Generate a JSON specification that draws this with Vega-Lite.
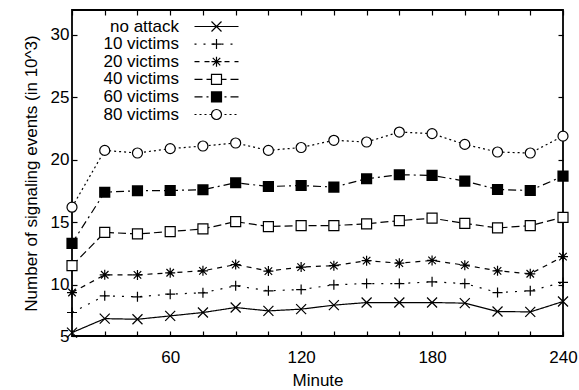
{
  "$schema": "https://vega.github.io/schema/vega-lite/v6.json",
  "width": 491,
  "height": 326,
  "autosize": {"type": "none"},
  "padding": {"left": 72, "top": 10, "right": 16, "bottom": 54},
  "background": "white",
  "config": {
    "font": "Liberation Sans",
    "view": {"stroke": "black", "strokeWidth": 1.8},
    "axis": {
      "grid": false, "domain": false, "tickColor": "black", "tickSize": -5, "tickWidth": 1.2,
      "labelFont": "Liberation Sans", "labelFontSize": 17, "labelColor": "black",
      "titleFont": "Liberation Sans", "titleFontSize": 17, "titleFontWeight": "normal", "titleColor": "black",
      "labelOverlap": false, "labelFlush": false
    },
    "legend": {
      "orient": "none", "legendX": 0, "legendY": 8, "padding": 0,
      "labelFont": "Liberation Sans", "labelFontSize": 17, "labelColor": "black", "labelAlign": "right",
      "labelOffset": -46, "symbolOffset": 136, "rowPadding": -0.4,
      "symbolSize": 100, "symbolStrokeWidth": 1.2
    }
  },
  "resolve": {"axis": {"x": "independent", "y": "independent"}, "legend": {"strokeDash": "independent", "shape": "independent"}},
  "data": {"values": [
    {"minute": 15, "series": "no attack", "events": 6.17},
    {"minute": 30, "series": "no attack", "events": 7.29},
    {"minute": 45, "series": "no attack", "events": 7.24},
    {"minute": 60, "series": "no attack", "events": 7.51},
    {"minute": 75, "series": "no attack", "events": 7.78},
    {"minute": 90, "series": "no attack", "events": 8.18},
    {"minute": 105, "series": "no attack", "events": 7.91},
    {"minute": 120, "series": "no attack", "events": 8.05},
    {"minute": 135, "series": "no attack", "events": 8.37},
    {"minute": 150, "series": "no attack", "events": 8.58},
    {"minute": 165, "series": "no attack", "events": 8.58},
    {"minute": 180, "series": "no attack", "events": 8.58},
    {"minute": 195, "series": "no attack", "events": 8.53},
    {"minute": 210, "series": "no attack", "events": 7.86},
    {"minute": 225, "series": "no attack", "events": 7.83},
    {"minute": 240, "series": "no attack", "events": 8.66},
    {"minute": 15, "series": "10 victims", "events": 7.78},
    {"minute": 30, "series": "10 victims", "events": 9.12},
    {"minute": 45, "series": "10 victims", "events": 9.04},
    {"minute": 60, "series": "10 victims", "events": 9.25},
    {"minute": 75, "series": "10 victims", "events": 9.36},
    {"minute": 90, "series": "10 victims", "events": 9.92},
    {"minute": 105, "series": "10 victims", "events": 9.52},
    {"minute": 120, "series": "10 victims", "events": 9.62},
    {"minute": 135, "series": "10 victims", "events": 10.0},
    {"minute": 150, "series": "10 victims", "events": 10.1},
    {"minute": 165, "series": "10 victims", "events": 10.1},
    {"minute": 180, "series": "10 victims", "events": 10.24},
    {"minute": 195, "series": "10 victims", "events": 10.1},
    {"minute": 210, "series": "10 victims", "events": 9.38},
    {"minute": 225, "series": "10 victims", "events": 9.52},
    {"minute": 240, "series": "10 victims", "events": 10.19},
    {"minute": 15, "series": "20 victims", "events": 9.38},
    {"minute": 30, "series": "20 victims", "events": 10.8},
    {"minute": 45, "series": "20 victims", "events": 10.79},
    {"minute": 60, "series": "20 victims", "events": 10.96},
    {"minute": 75, "series": "20 victims", "events": 11.12},
    {"minute": 90, "series": "20 victims", "events": 11.62},
    {"minute": 105, "series": "20 victims", "events": 11.1},
    {"minute": 120, "series": "20 victims", "events": 11.42},
    {"minute": 135, "series": "20 victims", "events": 11.53},
    {"minute": 150, "series": "20 victims", "events": 11.93},
    {"minute": 165, "series": "20 victims", "events": 11.73},
    {"minute": 180, "series": "20 victims", "events": 11.95},
    {"minute": 195, "series": "20 victims", "events": 11.57},
    {"minute": 210, "series": "20 victims", "events": 11.12},
    {"minute": 225, "series": "20 victims", "events": 10.88},
    {"minute": 240, "series": "20 victims", "events": 12.25},
    {"minute": 15, "series": "40 victims", "events": 11.53},
    {"minute": 30, "series": "40 victims", "events": 14.2},
    {"minute": 45, "series": "40 victims", "events": 14.07},
    {"minute": 60, "series": "40 victims", "events": 14.26},
    {"minute": 75, "series": "40 victims", "events": 14.47},
    {"minute": 90, "series": "40 victims", "events": 15.06},
    {"minute": 105, "series": "40 victims", "events": 14.66},
    {"minute": 120, "series": "40 victims", "events": 14.74},
    {"minute": 135, "series": "40 victims", "events": 14.74},
    {"minute": 150, "series": "40 victims", "events": 14.88},
    {"minute": 165, "series": "40 victims", "events": 15.14},
    {"minute": 180, "series": "40 victims", "events": 15.33},
    {"minute": 195, "series": "40 victims", "events": 14.92},
    {"minute": 210, "series": "40 victims", "events": 14.55},
    {"minute": 225, "series": "40 victims", "events": 14.74},
    {"minute": 240, "series": "40 victims", "events": 15.4},
    {"minute": 15, "series": "60 victims", "events": 13.32},
    {"minute": 30, "series": "60 victims", "events": 17.41},
    {"minute": 45, "series": "60 victims", "events": 17.53},
    {"minute": 60, "series": "60 victims", "events": 17.55},
    {"minute": 75, "series": "60 victims", "events": 17.61},
    {"minute": 90, "series": "60 victims", "events": 18.17},
    {"minute": 105, "series": "60 victims", "events": 17.87},
    {"minute": 120, "series": "60 victims", "events": 17.95},
    {"minute": 135, "series": "60 victims", "events": 17.82},
    {"minute": 150, "series": "60 victims", "events": 18.49},
    {"minute": 165, "series": "60 victims", "events": 18.81},
    {"minute": 180, "series": "60 victims", "events": 18.76},
    {"minute": 195, "series": "60 victims", "events": 18.3},
    {"minute": 210, "series": "60 victims", "events": 17.63},
    {"minute": 225, "series": "60 victims", "events": 17.55},
    {"minute": 240, "series": "60 victims", "events": 18.7},
    {"minute": 15, "series": "80 victims", "events": 16.21},
    {"minute": 30, "series": "80 victims", "events": 20.76},
    {"minute": 45, "series": "80 victims", "events": 20.55},
    {"minute": 60, "series": "80 victims", "events": 20.9},
    {"minute": 75, "series": "80 victims", "events": 21.11},
    {"minute": 90, "series": "80 victims", "events": 21.35},
    {"minute": 105, "series": "80 victims", "events": 20.76},
    {"minute": 120, "series": "80 victims", "events": 20.99},
    {"minute": 135, "series": "80 victims", "events": 21.57},
    {"minute": 150, "series": "80 victims", "events": 21.43},
    {"minute": 165, "series": "80 victims", "events": 22.23},
    {"minute": 180, "series": "80 victims", "events": 22.1},
    {"minute": 195, "series": "80 victims", "events": 21.24},
    {"minute": 210, "series": "80 victims", "events": 20.63},
    {"minute": 225, "series": "80 victims", "events": 20.55},
    {"minute": 240, "series": "80 victims", "events": 21.9}
  ]},
  "layer": [
    {
      "mark": {"type": "line", "stroke": "black", "strokeWidth": 1.2},
      "encoding": {
        "x": {"field": "minute", "type": "quantitative",
          "scale": {"domain": [15, 240], "nice": false, "zero": false},
          "axis": {"orient": "top", "values": [15,30,45,60,75,90,105,120,135,150,165,180,195,210,225,240], "labels": false, "title": null}},
        "y": {"field": "events", "type": "quantitative",
          "scale": {"domain": [5.9, 32], "nice": false, "zero": false},
          "axis": {"orient": "right", "values": [10,15,20,25,30], "labels": false, "title": null}},
        "strokeDash": {"field": "series", "type": "nominal",
          "scale": {"domain": ["no attack","10 victims","20 victims","40 victims","60 victims","80 victims"],
                    "range": [[1,0],[2,7],[5,5],[8,4],[8,4,2,4],[2,3]]},
          "legend": {"orient": "none", "legendX": 0, "legendY": 8, "title": null,
            "symbolType": "M-4.4,0H4.4", "zindex": 1}}
      }
    },
    {
      "mark": {"type": "point", "filled": true, "fill": "white", "stroke": "black", "strokeWidth": 1.2, "size": 100, "opacity": 1},
      "encoding": {
        "x": {"field": "minute", "type": "quantitative",
          "axis": {"orient": "bottom", "values": [15,30,45,60,75,90,105,120,135,150,165,180,195,210,225,240],
                   "labelExpr": "datum.value % 60 === 0 ? datum.label : ''", "labelPadding": 18, "title": "Minute", "titlePadding": 7}},
        "y": {"field": "events", "type": "quantitative",
          "axis": {"orient": "left", "values": [5.9,10,15,20,25,30],
                   "labelExpr": "datum.value < 6 ? '5' : datum.label", "labelPadding": 8,
                   "title": "Number of signaling events (in 10^3)", "titlePadding": 10}},
        "shape": {"field": "series", "type": "nominal",
          "scale": {"domain": ["no attack","10 victims","20 victims","40 victims","60 victims","80 victims"],
                    "range": ["M-1,-1L1,1M-1,1L1,-1", "M-1,0L1,0M0,-1L0,1", "M-1,0L1,0M0,-1L0,1M-0.75,-0.75L0.75,0.75M-0.75,0.75L0.75,-0.75", "square", "M-1,-1H1V1H-1Z M-1,-0.8H1 M-1,-0.6H1 M-1,-0.4H1 M-1,-0.2H1 M-1,0H1 M-1,0.2H1 M-1,0.4H1 M-1,0.6H1 M-1,0.8H1", "circle"]},
          "legend": {"orient": "none", "legendX": 0, "legendY": 8, "title": null, "labelOpacity": 0, "zindex": 2}}
      }
    }
  ]
}
